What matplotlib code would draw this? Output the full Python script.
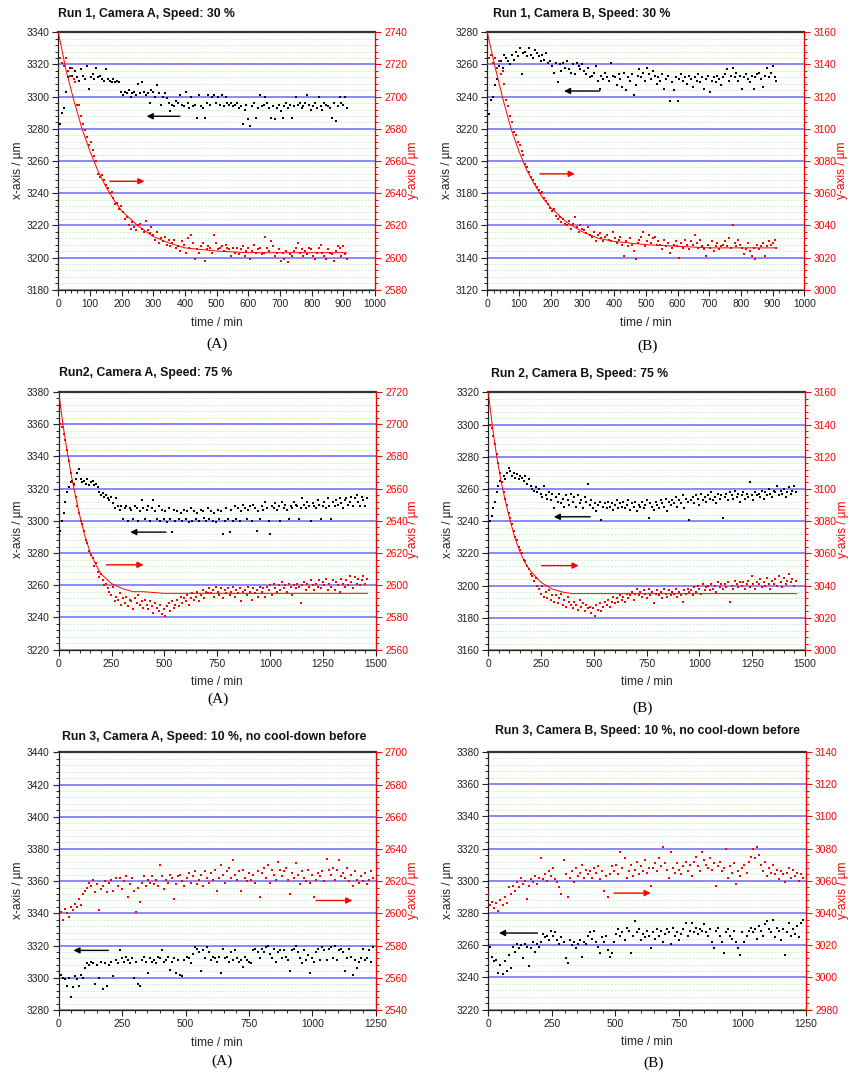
import numpy as np
import matplotlib
matplotlib.use('Agg')
import matplotlib.pyplot as plt
from matplotlib.ticker import MultipleLocator

plt.rcParams['font.family'] = ['Liberation Sans', 'DejaVu Sans']

# ---------------- DATA ----------------
# sampling interval (min) of the plotted series for each run
step_run1 = 6
step_run2 = 8
step_run3 = 8

# Run 1, Camera A : x-axis (left, black) and y-axis (right, red)
r1a_x = [3286, 3283, 3290, 3293, 3303, 3312, 3318, 3313, 3311, 3316,
         3312, 3310, 3317, 3313, 3311, 3319, 3305, 3312, 3314, 3311,
         3318, 3312, 3313, 3311, 3310, 3317, 3311, 3310, 3309, 3311,
         3309, 3310, 3309, 3303, 3301, 3303, 3302, 3304, 3300, 3302,
         3303, 3301, 3308, 3302, 3309, 3303, 3301, 3302, 3296, 3304,
         3303, 3300, 3307, 3302, 3295, 3300, 3302, 3299, 3296, 3291,
         3295, 3294, 3297, 3296, 3301, 3295, 3294, 3303, 3296, 3293,
         3300, 3294, 3295, 3287, 3301, 3294, 3293, 3287, 3296, 3301,
         3295, 3300, 3301, 3296, 3300, 3295, 3301, 3294, 3300, 3296,
         3295, 3296, 3294, 3295, 3296, 3293, 3294, 3283, 3292, 3295,
         3286, 3282, 3294, 3296, 3287, 3293, 3301, 3294, 3295, 3300,
         3296, 3293, 3287, 3294, 3286, 3293, 3295, 3291, 3287, 3294,
         3296, 3293, 3295, 3287, 3294, 3300, 3295, 3296, 3293, 3294,
         3296, 3301, 3295, 3292, 3294, 3296, 3293, 3300, 3294, 3292,
         3296, 3295, 3294, 3293, 3287, 3296, 3285, 3294, 3300, 3296,
         3295, 3300, 3293]
r1a_y = [2718, 2724, 2721, 2719, 2724, 2716, 2713, 2718, 2711, 2709,
         2695, 2695, 2688, 2683, 2679, 2675, 2670, 2672, 2667, 2663,
         2660, 2652, 2650, 2651, 2648, 2645, 2643, 2640, 2641, 2637,
         2633, 2634, 2630, 2632, 2628, 2624, 2625, 2620, 2618, 2622,
         2619, 2617, 2620, 2621, 2618, 2616, 2623, 2617, 2615, 2619,
         2614, 2611, 2616, 2609, 2612, 2610, 2613, 2608, 2611, 2607,
         2609, 2611, 2606, 2607, 2604, 2610, 2608, 2603, 2612, 2606,
         2614, 2609, 2599, 2605, 2603, 2607, 2609, 2598, 2605, 2607,
         2606, 2603, 2614, 2609, 2605, 2606, 2607, 2604, 2608, 2606,
         2605, 2601, 2606, 2603, 2606, 2602, 2605, 2607, 2601, 2604,
         2606, 2599, 2604, 2608, 2603, 2605, 2606, 2602, 2603, 2613,
         2606, 2604, 2610, 2607, 2601, 2603, 2605, 2598, 2603, 2599,
         2604, 2597, 2602, 2601, 2604, 2606, 2609, 2603, 2605, 2601,
         2604, 2602, 2606, 2605, 2601, 2599, 2603, 2606, 2608, 2603,
         2601, 2599, 2605, 2603, 2602, 2598, 2604, 2607, 2606, 2601,
         2607, 2602, 2599]
r1a_fit_t = [0, 25, 50, 75, 100, 125, 150, 175, 200, 250, 300, 350, 400, 500, 600, 700, 800, 910]
r1a_fit_y = [2740, 2716, 2697, 2680, 2666, 2654, 2644, 2636, 2629, 2620, 2613, 2609, 2606, 2604, 2603, 2603, 2603, 2603]

# Run 1, Camera B
r1b_x = [3235, 3229, 3238, 3240, 3247, 3251, 3259, 3262, 3258, 3266,
         3264, 3262, 3260, 3266, 3263, 3268, 3265, 3270, 3254, 3267,
         3268, 3265, 3270, 3266, 3264, 3269, 3267, 3265, 3262, 3266,
         3263, 3267, 3261, 3262, 3259, 3255, 3261, 3249, 3260, 3256,
         3261, 3258, 3262, 3257, 3255, 3260, 3254, 3261, 3259, 3257,
         3260, 3256, 3254, 3258, 3252, 3253, 3255, 3259, 3250, 3245,
         3253, 3251, 3255, 3252, 3250, 3261, 3253, 3252, 3247, 3254,
         3251, 3246, 3255, 3244, 3252, 3250, 3254, 3241, 3247, 3253,
         3257, 3252, 3255, 3250, 3258, 3254, 3251, 3256, 3253, 3248,
         3252, 3250, 3254, 3245, 3251, 3253, 3237, 3249, 3244, 3252,
         3237, 3251, 3254, 3250, 3252, 3248, 3253, 3251, 3246, 3252,
         3250, 3254, 3249, 3252, 3245, 3251, 3253, 3243, 3250, 3252,
         3249, 3253, 3251, 3247, 3252, 3254, 3257, 3250, 3253, 3258,
         3252, 3255, 3250, 3253, 3245, 3252, 3254, 3251, 3249, 3253,
         3245, 3252, 3254, 3255, 3251, 3246, 3253, 3258, 3252, 3255,
         3259, 3252, 3250]
r1b_y = [3140, 3144, 3146, 3141, 3144, 3138, 3142, 3134, 3136, 3128,
         3118, 3114, 3108, 3104, 3098, 3096, 3092, 3090, 3086, 3084,
         3078, 3076, 3073, 3070, 3068, 3066, 3064, 3062, 3060, 3061,
         3057, 3055, 3053, 3051, 3049, 3050, 3046, 3044, 3045, 3042,
         3044, 3041, 3040, 3043, 3038, 3041, 3045, 3039, 3036, 3040,
         3038, 3037, 3035, 3039, 3034, 3033, 3036, 3030, 3034, 3035,
         3032, 3030, 3033, 3034, 3031, 3030, 3036, 3032, 3029, 3031,
         3033, 3028, 3021, 3030, 3027, 3032, 3028, 3024, 3019, 3029,
         3031, 3033, 3036, 3027, 3030, 3034, 3029, 3032, 3033, 3028,
         3030, 3028, 3025, 3031, 3027, 3029, 3023, 3026, 3028, 3030,
         3027, 3020, 3029, 3026, 3031, 3028, 3025, 3030, 3028, 3034,
         3029, 3026, 3031, 3027, 3025, 3021, 3028, 3026, 3030, 3024,
         3027, 3029, 3025, 3027, 3028, 3030, 3027, 3032, 3026, 3040,
         3029, 3027, 3031, 3028, 3026, 3022, 3025, 3029, 3024, 3021,
         3026, 3019, 3028, 3025, 3027, 3029, 3021, 3027, 3030, 3028,
         3029, 3031, 3026]
r1b_fit_t = [0, 25, 50, 75, 100, 125, 150, 175, 200, 250, 300, 350, 400, 500, 600, 700, 800, 910]
r1b_fit_y = [3160, 3138, 3118, 3100, 3086, 3074, 3065, 3057, 3051, 3042, 3036, 3032, 3030, 3028, 3027, 3026, 3026, 3026]

# Run 2, Camera A
r2a_x = [3292, 3294, 3300, 3305, 3312, 3318, 3321, 3324, 3325, 3323,
         3326, 3330, 3332, 3326, 3324, 3325, 3323, 3326, 3322, 3324,
         3325, 3322, 3323, 3321, 3318, 3316, 3317, 3315, 3316, 3314,
         3313, 3315, 3311, 3308, 3314, 3309, 3307, 3309, 3301, 3308,
         3309, 3300, 3308, 3307, 3301, 3309, 3308, 3300, 3306, 3313,
         3308, 3301, 3307, 3309, 3300, 3308, 3313, 3306, 3301, 3309,
         3300, 3307, 3301, 3306, 3299, 3308, 3301, 3293, 3307, 3300,
         3306, 3301, 3305, 3300, 3307, 3301, 3306, 3299, 3308, 3300,
         3306, 3301, 3305, 3300, 3307, 3306, 3302, 3300, 3308, 3301,
         3306, 3300, 3305, 3299, 3307, 3301, 3306, 3292, 3300, 3308,
         3301, 3293, 3307, 3300, 3309, 3301, 3308, 3300, 3306, 3310,
         3308, 3301, 3307, 3309, 3300, 3310, 3308, 3294, 3306, 3301,
         3309, 3307, 3312, 3308, 3300, 3292, 3309, 3308, 3311, 3307,
         3309, 3300, 3312, 3308, 3310, 3307, 3301, 3309, 3308, 3312,
         3310, 3309, 3301, 3308, 3314, 3310, 3308, 3312, 3309, 3300,
         3311, 3309, 3308, 3313, 3310, 3301, 3309, 3312, 3308, 3314,
         3309, 3301, 3312, 3309, 3313, 3310, 3314, 3311, 3308, 3313,
         3314, 3310, 3312, 3315, 3309, 3314, 3316, 3312, 3309, 3315,
         3313, 3309, 3314]
r2a_y = [2688, 2700, 2698, 2694, 2690, 2684, 2677, 2670, 2664, 2662,
         2655, 2649, 2645, 2640, 2638, 2634, 2628, 2626, 2621, 2619,
         2617, 2612, 2614, 2608, 2605, 2607, 2603, 2600, 2601, 2598,
         2596, 2594, 2599, 2590, 2593, 2591, 2595, 2588, 2592, 2589,
         2593, 2587, 2591, 2590, 2585, 2592, 2589, 2594, 2588, 2590,
         2586, 2591, 2588, 2585, 2590, 2587, 2583, 2589, 2586, 2584,
         2588, 2582, 2585, 2581, 2587, 2589, 2584, 2590, 2586, 2588,
         2591, 2587, 2593, 2589, 2592, 2590, 2594, 2588, 2592, 2595,
         2591, 2593, 2596, 2590, 2594, 2597, 2592, 2596, 2595, 2598,
         2595, 2597, 2593, 2599, 2596, 2594, 2598, 2592, 2597, 2595,
         2598, 2594, 2596, 2599, 2593, 2597, 2595, 2598, 2590, 2596,
         2597, 2594, 2599, 2596, 2591, 2598, 2595, 2597, 2593, 2599,
         2596, 2598, 2593, 2599, 2597, 2600, 2594, 2601, 2598, 2596,
         2600, 2597, 2602, 2598, 2600, 2596, 2601, 2599, 2594, 2600,
         2598, 2601, 2599, 2589, 2600, 2602, 2597, 2601, 2599, 2603,
         2600, 2597, 2601, 2599, 2603, 2598, 2602, 2600, 2604, 2597,
         2601, 2599, 2603, 2597, 2602, 2600, 2596, 2604, 2601, 2599,
         2603, 2600, 2606, 2602, 2598, 2605, 2601, 2604, 2600, 2603,
         2606, 2601, 2604]
r2a_fit_t = [0, 20, 40, 60, 80, 100, 125, 150, 175, 200, 250, 300, 350, 400, 500, 700, 1000, 1460]
r2a_fit_y = [2720, 2700, 2683, 2668, 2655, 2643, 2630, 2620, 2613, 2607, 2601, 2598, 2596, 2596, 2595, 2595, 2595, 2595]

# Run 2, Camera B
r2b_x = [3236, 3240, 3243, 3248, 3252, 3258, 3262, 3265, 3264, 3268,
         3266, 3270, 3273, 3271, 3268, 3270, 3267, 3269, 3266, 3268,
         3267, 3265, 3268, 3263, 3266, 3262, 3260, 3259, 3261, 3258,
         3260, 3257, 3255, 3262, 3256, 3254, 3258, 3253, 3257, 3248,
         3255, 3252, 3257, 3251, 3254, 3249, 3256, 3253, 3250, 3257,
         3252, 3255, 3249, 3256, 3251, 3253, 3248, 3255, 3252, 3263,
         3250, 3253, 3248, 3251, 3246, 3250, 3252, 3241, 3249, 3251,
         3248, 3252, 3249, 3251, 3247, 3250, 3253, 3248, 3251, 3249,
         3252, 3248, 3250, 3253, 3247, 3251, 3249, 3252, 3246, 3250,
         3249, 3252, 3248, 3250, 3253, 3242, 3251, 3249, 3247, 3252,
         3250, 3248, 3253, 3251, 3249, 3254, 3246, 3252, 3250, 3253,
         3251, 3255, 3249, 3253, 3251, 3256, 3248, 3254, 3252, 3241,
         3253, 3255, 3251, 3256, 3254, 3250, 3257, 3253, 3255, 3252,
         3256, 3254, 3258, 3253, 3255, 3251, 3257, 3254, 3256, 3242,
         3255, 3257, 3253, 3258, 3256, 3254, 3259, 3255, 3257, 3252,
         3256, 3258, 3254, 3257, 3255, 3264, 3256, 3253, 3258, 3256,
         3257, 3255, 3259, 3254, 3258, 3256, 3260, 3257, 3255, 3259,
         3258, 3262, 3256, 3259, 3257, 3260, 3255, 3258, 3261, 3257,
         3259, 3262, 3258]
r2b_y = [3128, 3140, 3138, 3133, 3128, 3122, 3116, 3110, 3104, 3098,
         3094, 3090, 3085, 3082, 3078, 3074, 3070, 3068, 3064, 3062,
         3060, 3056, 3055, 3052, 3050, 3047, 3046, 3043, 3045, 3040,
         3038, 3035, 3040, 3033, 3036, 3032, 3037, 3031, 3034, 3030,
         3034, 3029, 3032, 3035, 3028, 3031, 3027, 3033, 3030, 3028,
         3026, 3030, 3028, 3025, 3031, 3027, 3029, 3024, 3028, 3026,
         3027, 3023, 3026, 3021, 3028, 3025, 3029, 3024, 3027, 3030,
         3028, 3031, 3027, 3030, 3033, 3029, 3032, 3030, 3034, 3031,
         3033, 3030, 3035, 3032, 3034, 3036, 3031, 3035, 3038, 3034,
         3036, 3033, 3037, 3035, 3032, 3038, 3034, 3036, 3029, 3035,
         3037, 3034, 3036, 3032, 3038, 3035, 3033, 3037, 3034, 3036,
         3035, 3038, 3033, 3036, 3034, 3030, 3037, 3035, 3038, 3036,
         3037, 3034, 3039, 3036, 3040, 3038, 3035, 3041, 3037, 3039,
         3040, 3037, 3041, 3038, 3040, 3036, 3042, 3039, 3041, 3038,
         3041, 3039, 3042, 3030, 3040, 3038, 3043, 3041, 3039, 3042,
         3040, 3042, 3038, 3041, 3043, 3039, 3046, 3041, 3038, 3042,
         3041, 3044, 3039, 3042, 3040, 3045, 3041, 3038, 3043, 3041,
         3044, 3040, 3046, 3042, 3039, 3045, 3041, 3043, 3047, 3042,
         3044, 3040, 3043]
r2b_fit_t = [0, 20, 40, 60, 80, 100, 125, 150, 175, 200, 250, 300, 350, 400, 500, 700, 1000, 1460]
r2b_fit_y = [3160, 3138, 3120, 3105, 3093, 3082, 3070, 3061, 3054, 3049, 3042, 3038, 3036, 3035, 3035, 3035, 3035, 3035]

# Run 3, Camera A (no fit curve)
r3a_x = [3304, 3302, 3300, 3299, 3295, 3300, 3288, 3294, 3301, 3299,
         3295, 3302, 3300, 3306, 3309, 3308, 3310, 3309, 3296, 3308,
         3300, 3310, 3293, 3309, 3295, 3308, 3310, 3301, 3311, 3309,
         3317, 3312, 3310, 3313, 3311, 3309, 3312, 3300, 3310, 3296,
         3295, 3311, 3313, 3310, 3303, 3312, 3310, 3311, 3309, 3313,
         3312, 3317, 3310, 3311, 3313, 3305, 3310, 3312, 3303, 3311,
         3302, 3301, 3311, 3313, 3312, 3309, 3315, 3319, 3318, 3316,
         3304, 3317, 3312, 3319, 3316, 3311, 3313, 3312, 3310, 3313,
         3303, 3318, 3312, 3313, 3310, 3316, 3311, 3317, 3312, 3310,
         3311, 3307, 3313, 3311, 3310, 3309, 3317, 3318, 3316, 3312,
         3318, 3316, 3319, 3320, 3315, 3312, 3318, 3310, 3316, 3317,
         3312, 3317, 3313, 3311, 3304, 3317, 3318, 3320, 3316, 3312,
         3309, 3317, 3311, 3314, 3303, 3312, 3310, 3316, 3318, 3311,
         3319, 3317, 3311, 3318, 3319, 3312, 3320, 3311, 3317, 3318,
         3316, 3304, 3312, 3318, 3313, 3302, 3311, 3306, 3310, 3312,
         3318, 3311, 3312, 3317, 3310, 3319]
r3a_y = [2598, 2601, 2596, 2603, 2600, 2598, 2604, 2602, 2606, 2604,
         2609, 2605, 2612, 2614, 2616, 2619, 2617, 2621, 2613, 2618,
         2602, 2615, 2617, 2620, 2613, 2619, 2621, 2614, 2622, 2617,
         2622, 2615, 2620, 2623, 2610, 2618, 2622, 2614, 2601, 2616,
         2607, 2619, 2623, 2617, 2621, 2619, 2623, 2618, 2621, 2617,
         2630, 2623, 2615, 2621, 2619, 2624, 2622, 2609, 2618, 2623,
         2624, 2620, 2617, 2622, 2625, 2619, 2623, 2626, 2618, 2621,
         2624, 2617, 2626, 2622, 2619, 2625, 2621, 2627, 2614, 2622,
         2630, 2624, 2619, 2626, 2628, 2622, 2633, 2624, 2621, 2626,
         2614, 2627, 2622, 2620, 2625, 2621, 2624, 2619, 2626, 2610,
         2625, 2628, 2622, 2630, 2619, 2627, 2624, 2621, 2632, 2627,
         2623, 2626, 2628, 2621, 2612, 2625, 2622, 2631, 2624, 2618,
         2626, 2622, 2620, 2627, 2619, 2624, 2610, 2621, 2625, 2623,
         2626, 2620, 2634, 2627, 2624, 2628, 2621, 2627, 2633, 2623,
         2625, 2622, 2628, 2620, 2624, 2617, 2626, 2621, 2619, 2623,
         2620, 2625, 2618, 2621, 2626, 2622]

# Run 3, Camera B (no fit curve)
r3b_x = [3260, 3259, 3253, 3250, 3251, 3243, 3248, 3242, 3250, 3244,
         3254, 3246, 3259, 3256, 3261, 3258, 3260, 3252, 3261, 3259,
         3247, 3258, 3262, 3256, 3261, 3259, 3262, 3267, 3265, 3266,
         3263, 3269, 3266, 3268, 3263, 3261, 3265, 3262, 3252, 3249,
         3263, 3260, 3262, 3258, 3261, 3263, 3253, 3262, 3261, 3266,
         3268, 3264, 3269, 3262, 3259, 3255, 3265, 3262, 3266, 3257,
         3253, 3255, 3262, 3267, 3270, 3266, 3268, 3263, 3271, 3269,
         3255, 3266, 3275, 3268, 3270, 3263, 3267, 3265, 3269, 3266,
         3258, 3268, 3264, 3270, 3266, 3269, 3262, 3267, 3270, 3268,
         3261, 3271, 3266, 3268, 3263, 3267, 3270, 3274, 3266, 3269,
         3274, 3268, 3271, 3267, 3270, 3269, 3273, 3268, 3266, 3270,
         3262, 3258, 3269, 3271, 3266, 3262, 3255, 3268, 3270, 3266,
         3264, 3269, 3262, 3258, 3254, 3268, 3262, 3266, 3269, 3271,
         3268, 3270, 3264, 3272, 3269, 3266, 3273, 3275, 3270, 3268,
         3276, 3265, 3271, 3269, 3263, 3270, 3254, 3268, 3274, 3266,
         3270, 3267, 3272, 3265, 3274, 3276]
r3b_y = [3052, 3045, 3047, 3043, 3046, 3041, 3048, 3045, 3050, 3046,
         3056, 3052, 3057, 3054, 3059, 3056, 3062, 3058, 3060, 3049,
         3057, 3061, 3059, 3063, 3058, 3062, 3074, 3061, 3064, 3060,
         3066, 3063, 3068, 3061, 3059, 3056, 3052, 3073, 3064, 3050,
         3062, 3066, 3059, 3068, 3063, 3065, 3070, 3062, 3067, 3064,
         3066, 3062, 3068, 3065, 3069, 3061, 3066, 3054, 3063, 3050,
         3064, 3069, 3066, 3070, 3064, 3078, 3068, 3074, 3062, 3066,
         3070, 3063, 3067, 3072, 3064, 3069, 3066, 3073, 3065, 3068,
         3057, 3068, 3071, 3066, 3074, 3069, 3081, 3071, 3067, 3062,
         3078, 3068, 3065, 3071, 3067, 3064, 3069, 3072, 3066, 3070,
         3063, 3072, 3075, 3069, 3066, 3078, 3073, 3070, 3068, 3074,
         3067, 3071, 3057, 3069, 3072, 3066, 3068, 3080, 3062, 3069,
         3065, 3071, 3058, 3066, 3063, 3068, 3070, 3065, 3072, 3075,
         3080, 3074, 3081, 3076, 3070, 3066, 3072, 3063, 3068, 3065,
         3070, 3064, 3067, 3061, 3066, 3064, 3059, 3065, 3068, 3062,
         3067, 3063, 3065, 3060, 3064, 3062]

titles = ["Run 1, Camera A, Speed: 30 %", "Run 1, Camera B, Speed: 30 %",
          "Run2, Camera A, Speed: 75 %", "Run 2, Camera B, Speed: 75 %",
          "Run 3, Camera A, Speed: 10 %, no cool-down before",
          "Run 3, Camera B, Speed: 10 %, no cool-down before"]
letters = ["(A)", "(B)", "(A)", "(B)", "(A)", "(B)"]

# ---------------- LAYOUT / STYLE ----------------
W, H = 850, 1074
fig = plt.figure(figsize=(W / 100, H / 100), dpi=100)
fig.patch.set_facecolor('white')

RED = '#ff0000'
BLUE = '#7f7fff'
GREEN = '#ccf2cc'


def fx(px):
    return px / W


def fy(py):
    return 1 - py / H


def panel(box, title, title_xy, xlim, xmaj, xmin, ylimL, ylimR, step,
          xs, ys, fit_t, fit_y, arrL, arrR, letter, letter_xy, xlab_xy,
          ylab_x, yrlab_x, ylab_y):
    l, r, t, b = box
    ax = fig.add_axes([fx(l), fy(b), fx(r - l), (b - t) / H])
    ax2 = ax.twinx()
    ax.set_xlim(*xlim)
    ax.set_ylim(*ylimL)
    ax2.set_ylim(*ylimR)

    ax.xaxis.set_major_locator(MultipleLocator(xmaj))
    ax.xaxis.set_minor_locator(MultipleLocator(xmin))
    for a in (ax, ax2):
        a.yaxis.set_major_locator(MultipleLocator(20))
        a.yaxis.set_minor_locator(MultipleLocator(4))

    ax.grid(which='major', axis='y', color=BLUE, lw=1.3, zorder=0)
    ax.grid(which='minor', axis='y', color=GREEN, lw=0.7, ls=(0, (2, 1.5)), zorder=0)
    ax.set_axisbelow(True)

    ax.tick_params(axis='both', which='major', direction='out', length=4,
                   width=0.8, labelsize=7.4, pad=2.5, colors='#222222')
    ax.tick_params(axis='both', which='minor', direction='out', length=2.3,
                   width=0.7, colors='#222222')
    ax.tick_params(top=False, right=False, which='both')
    ax2.tick_params(axis='y', which='major', direction='out', length=4,
                    width=0.8, labelsize=7.4, pad=2.5, colors=RED)
    ax2.tick_params(axis='y', which='minor', direction='out', length=2.3,
                    width=0.7, colors=RED)

    for s in ('left', 'bottom'):
        ax.spines[s].set_color('#222222')
        ax.spines[s].set_linewidth(0.9)
    ax.spines['top'].set_color('#333333')
    ax.spines['top'].set_linewidth(1.6)
    ax.spines['right'].set_visible(False)
    for s in ('left', 'bottom', 'top'):
        ax2.spines[s].set_visible(False)
    ax2.spines['right'].set_color(RED)
    ax2.spines['right'].set_linewidth(1.0)

    tx = np.arange(len(xs)) * step
    ty = np.arange(len(ys)) * step
    ax.plot(tx, xs, ls='none', marker='s', ms=1.9, mew=0, color='black', zorder=3)
    ax2.plot(ty, ys, ls='none', marker='s', ms=1.9, mew=0, color=RED, zorder=3)
    if fit_t is not None:
        ax2.plot(fit_t, fit_y, color=RED, lw=0.7, zorder=4)

    # arrows pointing to the axis each series belongs to (given in left-axis units)
    (a0, a1, ay) = arrL
    ax.annotate('', xy=(a1, ay), xytext=(a0, ay),
                arrowprops=dict(arrowstyle='-|>', color='black', lw=1.0,
                                mutation_scale=9, shrinkA=0, shrinkB=0), zorder=5)
    (b0, b1, by) = arrR
    ax2.annotate('', xy=(b1, by - ylimL[0] + ylimR[0]), xytext=(b0, by - ylimL[0] + ylimR[0]),
                 arrowprops=dict(arrowstyle='-|>', color=RED, lw=1.0,
                                 mutation_scale=9, shrinkA=0, shrinkB=0), zorder=5)

    fig.text(fx(title_xy[0]), fy(title_xy[1]), title, fontsize=8.8,
             fontweight='bold', ha='left', va='center', color='#111111')
    fig.text(fx(xlab_xy[0]), fy(xlab_xy[1]), 'time / min', fontsize=8.6,
             ha='center', va='center', color='#222222')
    fig.text(fx(ylab_x), fy(ylab_y), 'x-axis / µm', fontsize=8.6, rotation=90,
             ha='center', va='center', color='#222222')
    fig.text(fx(yrlab_x), fy(ylab_y), 'y-axis / µm', fontsize=8.6, rotation=90,
             ha='center', va='center', color=RED)
    fig.text(fx(letter_xy[0]), fy(letter_xy[1]), letter, fontsize=11,
             family=['Liberation Serif', 'DejaVu Serif'], ha='center', va='center')


panel((58.3, 375, 32.3, 289.7), titles[0], (58.5, 14.5), (0, 1000), 100, 20,
      (3180, 3340), (2580, 2740), step_run1, r1a_x, r1a_y, r1a_fit_t, r1a_fit_y,
      (384, 279, 3287.8), (163, 272, 3247.4), letters[0], (216.7, 344),
      (216.7, 322.7), 18.3, 412.7, 170)
panel((487.3, 804.3, 32.3, 289.7), titles[1], (492.7, 14.5), (0, 1000), 100, 20,
      (3120, 3280), (3000, 3160), step_run1, r1b_x, r1b_y, r1b_fit_t, r1b_fit_y,
      (355, 242, 3243.5), (166, 276, 3192), letters[1], (647.7, 346.7),
      (646, 322.7), 446.7, 842.3, 170)
panel((58.7, 376, 392, 649.7), titles[2], (59.3, 372.7), (0, 1500), 250, 50,
      (3220, 3380), (2560, 2720), step_run2, r2a_x, r2a_y, r2a_fit_t, r2a_fit_y,
      (507, 338, 3293), (225, 401, 3272.7), letters[2], (218, 699.3),
      (216.7, 681.7), 18.3, 413, 529)
panel((488.3, 805, 392.3, 650), titles[3], (491, 374), (0, 1500), 250, 50,
      (3160, 3320), (3000, 3160), step_run2, r2b_x, r2b_y, r2b_fit_t, r2b_fit_y,
      (483, 310, 3242.7), (252, 428, 3212.4), letters[3], (643, 708.3),
      (646.7, 681.7), 447.7, 843, 529)
panel((58.7, 375.7, 752.3, 1010), titles[4], (62.3, 736.7), (0, 1250), 250, 50,
      (3280, 3440), (2540, 2700), step_run3, r3a_x, r3a_y, None, None,
      (196, 58, 3317), (1015, 1158, 3348), letters[4], (221.7, 1061.7),
      (216.7, 1042.7), 18.3, 413, 890)
panel((488.3, 806, 752, 1009.7), titles[5], (495, 730.7), (0, 1250), 250, 50,
      (3220, 3380), (2980, 3140), step_run3, r3b_x, r3b_y, None, None,
      (193, 42, 3267.6), (494, 639, 3292.4), letters[5], (653.3, 1063.3),
      (646.7, 1041.7), 447.7, 843, 890)

fig.savefig('out.png', dpi=100, facecolor='white')
